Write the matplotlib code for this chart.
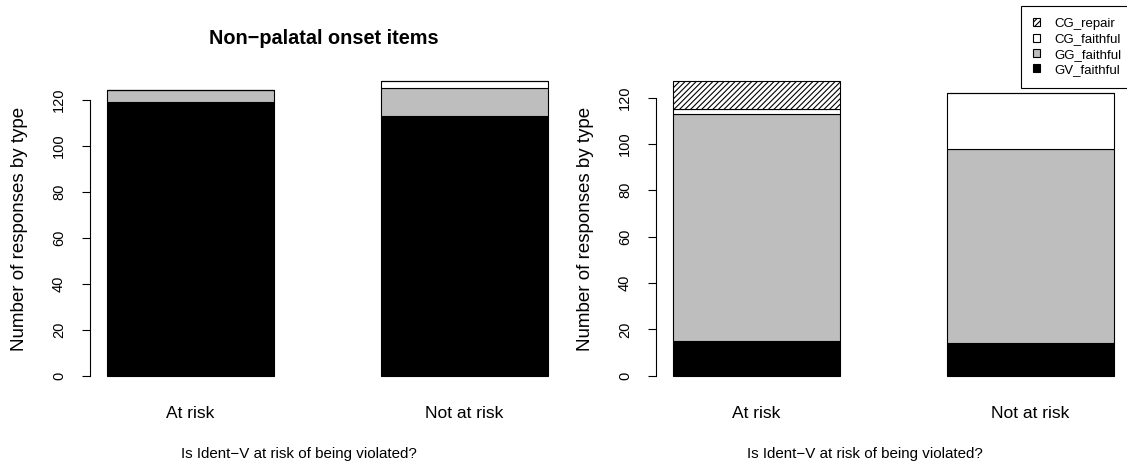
import matplotlib
matplotlib.use("Agg")
import matplotlib.pyplot as plt
from matplotlib.patches import Patch
import numpy as np

plt.rcParams['font.family'] = ['Liberation Sans', 'DejaVu Sans']
plt.rcParams['hatch.linewidth'] = 0.8

# data
categories = ["At risk", "Not at risk"]
series = ["GV_faithful", "GG_faithful", "CG_faithful", "CG_repair"]

nonpal_gv = [119, 113]
nonpal_gg = [5, 12]
nonpal_cgf = [0, 3]
nonpal_cgr = [0, 0]

pal_gv = [15, 14]
pal_gg = [98, 84]
pal_cgf = [2, 24]
pal_cgr = [12, 0]

yticks = [0, 20, 40, 60, 80, 100, 120]

colors = {"GV_faithful": "black", "GG_faithful": "#bebebe",
          "CG_faithful": "white", "CG_repair": "white"}
hatches = {"GV_faithful": None, "GG_faithful": None,
           "CG_faithful": None, "CG_repair": "//////"}

W, H = 1127, 466
fig = plt.figure(figsize=(W / 100, H / 100), dpi=100)


def px_axes(x0, x1, ytop, ybot):
    return fig.add_axes([x0 / W, 1 - ybot / H, (x1 - x0) / W, (ybot - ytop) / H])


def stacked(ax, stacks, title=None):
    x = np.arange(len(categories))
    width = 0.611
    bottom = np.zeros(len(categories))
    for name, vals in zip(series, stacks):
        ax.bar(x, vals, width, bottom=bottom, color=colors[name], edgecolor="black",
               linewidth=0.8, hatch=hatches[name])
        bottom += np.array(vals)
    ymax = bottom.max()
    ax.set_ylim(-0.04 * ymax, 1.04 * ymax)
    ax.set_xlim(-0.3675, 1.3675)
    for s in ["top", "right", "bottom"]:
        ax.spines[s].set_visible(False)
    ax.spines["left"].set_bounds(0, 120)
    ax.spines["left"].set_linewidth(0.8)
    ax.set_yticks(yticks)
    ax.tick_params(axis="y", length=5.8, width=0.8, pad=11.5, labelsize=10.5, labelrotation=90)
    for lab in ax.get_yticklabels():
        lab.set_va("center")
    ax.set_xticks(x, categories)
    ax.tick_params(axis="x", length=0, pad=13, labelsize=12.5)
    ax.text(-0.148, 0.5, "Number of responses by type", rotation=90, ha="center",
            va="center", fontsize=13.5, transform=ax.transAxes)
    ax.text(0.44, -0.209, "Is Ident\u2212V at risk of being violated?", ha="center",
            va="center", fontsize=10.9, transform=ax.transAxes)
    if title:
        ax.text(0.492, 1.096, title, ha="center", va="center", fontsize=14.3,
                fontweight="bold", transform=ax.transAxes)


ax1 = px_axes(90, 565, 69.5, 387.5)
ax2 = px_axes(656, 1131, 69.5, 387.5)

stacked(ax1, [nonpal_gv, nonpal_gg, nonpal_cgf, nonpal_cgr], "Non\u2212palatal onset items")
stacked(ax2, [pal_gv, pal_gg, pal_cgf, pal_cgr])

handles = [Patch(facecolor=colors[n], edgecolor="black", hatch=hatches[n], linewidth=0.8, label=n)
           for n in series[::-1]]
leg = fig.legend(handles=handles, loc="lower left", bbox_to_anchor=(1021 / W, 1 - 88 / H),
                 fancybox=False, edgecolor="black", framealpha=1, fontsize=9.5,
                 handlelength=0.55, handleheight=0.55, handletextpad=1.06, labelspacing=0.26,
                 borderaxespad=0, borderpad=0.9)
leg.get_frame().set_linewidth(0.8)

fig.savefig("out.png", dpi=100)
